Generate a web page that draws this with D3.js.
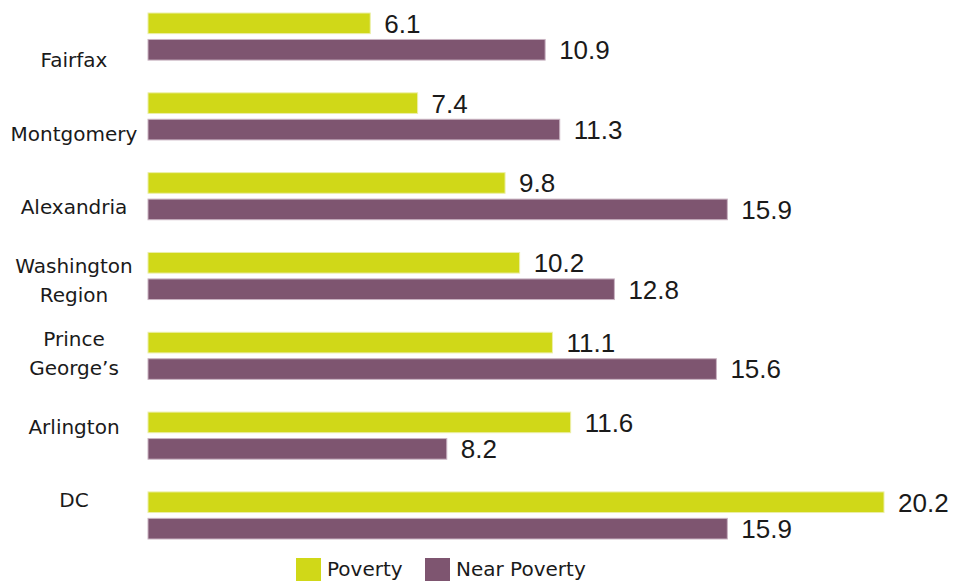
<!DOCTYPE html>
<html><head><meta charset="utf-8">
<script src="https://cdn.jsdelivr.net/npm/d3@7"></script>
<style>
html,body{margin:0;padding:0;background:#fff;}
svg{display:block;font-family:"Liberation Sans",Arial,sans-serif;}
</style></head>
<body><svg id="c" width="968" height="581"></svg>
<script>
const categories = ["Fairfax","Montgomery","Alexandria","Washington Region","Prince George’s","Arlington","DC"];
const labelLines = [["Fairfax"],["Montgomery"],["Alexandria"],["Washington","Region"],["Prince","George’s"],["Arlington"],["DC"]];
const seriesNames = ["Poverty","Near Poverty"];
const poverty = [6.1, 7.4, 9.8, 10.2, 11.1, 11.6, 20.2];
const nearPoverty = [10.9, 11.3, 15.9, 12.8, 15.6, 8.2, 15.9];
const colors = ["#D0D818","#7E5570"];
const strokes = ["#ECEFA8","#C9B3C2"];

const svg = d3.select("#c");
const data = categories.map((c,i)=>({cat:c, lines:labelLines[i], vals:[poverty[i], nearPoverty[i]]}));

const x = d3.scaleLinear().domain([0, 20.2]).range([148, 884]);
const y = d3.scaleBand().domain(categories).range([13, 539]).paddingInner(0.41).paddingOuter(0);
const ySub = d3.scaleBand().domain(seriesNames).range([0, y.bandwidth()]).paddingInner(0.22);
const yLabel = d3.scalePoint().domain(categories).range([60, 500]);

const g = svg.append("g");
const groups = g.selectAll("g.grp").data(data).join("g").attr("class","grp")
  .attr("transform", d=>`translate(0,${y(d.cat)})`);

groups.selectAll("rect").data(d=>d.vals.map((v,i)=>({s:seriesNames[i], v, i}))).join("rect")
  .attr("x", x(0))
  .attr("y", d=>ySub(d.s))
  .attr("width", d=>x(d.v)-x(0))
  .attr("height", ySub.bandwidth())
  .attr("fill", d=>colors[d.i])
  .attr("stroke", d=>strokes[d.i])
  .attr("stroke-width", 1);

groups.selectAll("text.val").data(d=>d.vals.map((v,i)=>({s:seriesNames[i], v, i}))).join("text")
  .attr("class","val")
  .attr("x", d=>x(d.v)+14)
  .attr("y", d=>ySub(d.s)+ySub.bandwidth()/2)
  .attr("dy","0.36em")
  .attr("font-size", 26)
  .attr("fill","#1a1a1a")
  .text(d=>d.v.toFixed(1));

// category labels
const lh = 29;
const labFont = 20;
const labs = svg.append("g").selectAll("text").data(data).join("text")
  .attr("x", 74)
  .attr("y", d=>yLabel(d.cat))
  .attr("text-anchor","middle")
  .attr("font-family","'DejaVu Sans',sans-serif")
  .attr("font-size", labFont)
  .attr("fill","#1a1a1a");
labs.selectAll("tspan").data(d=>d.lines.map((t,i)=>({t,i,n:d.lines.length}))).join("tspan")
  .attr("x", 74)
  .attr("dy", (d)=> d.i===0 ? (0.36*labFont - (d.n-1)*lh/2) : lh)
  .text(d=>d.t);

// legend
const legX = [296, 425];
const leg = svg.append("g").selectAll("g").data(seriesNames).join("g")
  .attr("transform",(d,i)=>`translate(${legX[i]},558)`);
leg.append("rect").attr("width",25).attr("height",24).attr("fill",(d,i)=>colors[i]);
leg.append("text").attr("x",31).attr("y",11).attr("dy","0.36em")
  .attr("font-family","'DejaVu Sans',sans-serif")
  .attr("font-size",20).attr("fill","#1a1a1a").text(d=>d);
</script>
</body></html>
